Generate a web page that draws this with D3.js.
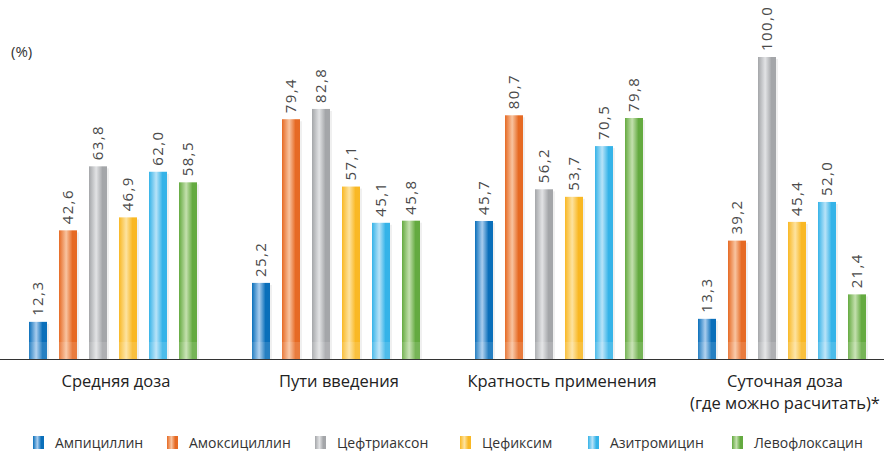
<!DOCTYPE html>
<html>
<head>
<meta charset="utf-8">
<script src="https://cdn.jsdelivr.net/npm/d3@7"></script>
<style>
body{margin:0;background:#fff;}
text{font-family:"Open Sans","Noto Sans",sans-serif;}
</style>
</head>
<body>
<script>
// данные
var categories = ["Средняя доза", "Пути введения", "Кратность применения", "Суточная доза|(где можно расчитать)*"];
var drugs = ["Ампициллин", "Амоксициллин", "Цефтриаксон", "Цефиксим", "Азитромицин", "Левофлоксацин"];
var ampicillin   = [12.3, 25.2, 45.7, 13.3];
var amoxicillin  = [42.6, 79.4, 80.7, 39.2];
var ceftriaxone  = [63.8, 82.8, 56.2, 100.0];
var cefixime     = [46.9, 57.1, 53.7, 45.4];
var azithromycin = [62.0, 45.1, 70.5, 52.0];
var levofloxacin = [58.5, 45.8, 79.8, 21.4];
var series = [ampicillin, amoxicillin, ceftriaxone, cefixime, azithromycin, levofloxacin];
var edgeColors = ["#0a6fba", "#e66a24", "#a4a6a9", "#f9b824", "#35b3e8", "#64aa40"];
var midColors  = ["#a9cdee", "#f8c4a0", "#e2e3e5", "#fde3a0", "#b8e3f8", "#c4e0ae"];

var width = 884, height = 451;
var baseline = 359, plotTop = 57;

var svg = d3.select("body").append("svg").attr("width", width).attr("height", height);
var defs = svg.append("defs");

edgeColors.forEach(function(c, i){
    var g = defs.append("linearGradient").attr("id", "grad" + i)
        .attr("x1", "0%").attr("x2", "100%").attr("y1", "0%").attr("y2", "0%");
    g.append("stop").attr("offset", "0%").attr("stop-color", c);
    g.append("stop").attr("offset", "40%").attr("stop-color", midColors[i]);
    g.append("stop").attr("offset", "75%").attr("stop-color", c);
    g.append("stop").attr("offset", "100%").attr("stop-color", c);
});

// шкалы
var x0 = d3.scaleBand().domain(d3.range(categories.length)).range([-4, 888]);
var x1 = d3.scaleBand().domain(d3.range(drugs.length)).range([27, 207]).paddingInner(0.4).paddingOuter(0.2);
var y = d3.scaleLinear().domain([0, 100]).range([baseline, plotTop]);

svg.append("text").attr("x", 11).attr("y", 57).attr("font-size", 15).attr("fill", "#333").text("(%)");

var groups = svg.selectAll(".grp").data(categories).enter().append("g")
    .attr("transform", function(d, i){ return "translate(" + x0(i) + ",0)"; });

groups.each(function(cat, ci){
    var g = d3.select(this);
    series.forEach(function(s, si){
        var v = s[ci];
        var bx = x1(si), bw = x1.bandwidth();
        // тень
        g.append("rect").attr("x", bx + 2).attr("y", y(v) + 2).attr("width", bw).attr("height", baseline - y(v) - 2)
            .attr("fill", "#000").attr("opacity", 0.06);
        g.append("rect").attr("x", bx).attr("y", y(v)).attr("width", bw).attr("height", baseline - y(v))
            .attr("fill", "url(#grad" + si + ")");
        // отражение внизу
        g.append("rect").attr("x", bx).attr("y", baseline - 17).attr("width", bw).attr("height", 17)
            .attr("fill", "#fff").attr("opacity", 0.12);
        var lx = bx + bw / 2 + 5, ly = y(v) - 6;
        g.append("text").attr("transform", "translate(" + lx + "," + ly + ") rotate(-90)")
            .attr("font-size", 15).attr("fill", "#4a4a4a").attr("letter-spacing", 1.4)
            .text(d3.format(".1f")(v).replace(".", ","));
    });
    var cx = x1(0) + (x1(5) + x1.bandwidth() - x1(0)) / 2 + 3;
    cat.split("|").forEach(function(t, li){
        g.append("text").attr("x", cx).attr("y", 387 + li * 22).attr("text-anchor", "middle")
            .attr("font-size", 16.5).attr("fill", "#222").text(t);
    });
});

// ось
svg.append("line").attr("x1", 0).attr("x2", width).attr("y1", baseline + 0.5).attr("y2", baseline + 0.5)
    .attr("stroke", "#333").attr("stroke-width", 1.2);

// легенда
var legX = [33, 167, 315, 460, 588, 732];
var leg = svg.selectAll(".leg").data(drugs).enter().append("g")
    .attr("transform", function(d, i){ return "translate(" + legX[i] + ",436)"; });
leg.append("rect").attr("width", 11).attr("height", 13).attr("fill", function(d, i){ return "url(#grad" + i + ")"; });
leg.append("text").attr("x", 22).attr("y", 12).attr("font-size", 14).attr("fill", "#333").text(function(d){ return d; });
</script>
</body>
</html>
